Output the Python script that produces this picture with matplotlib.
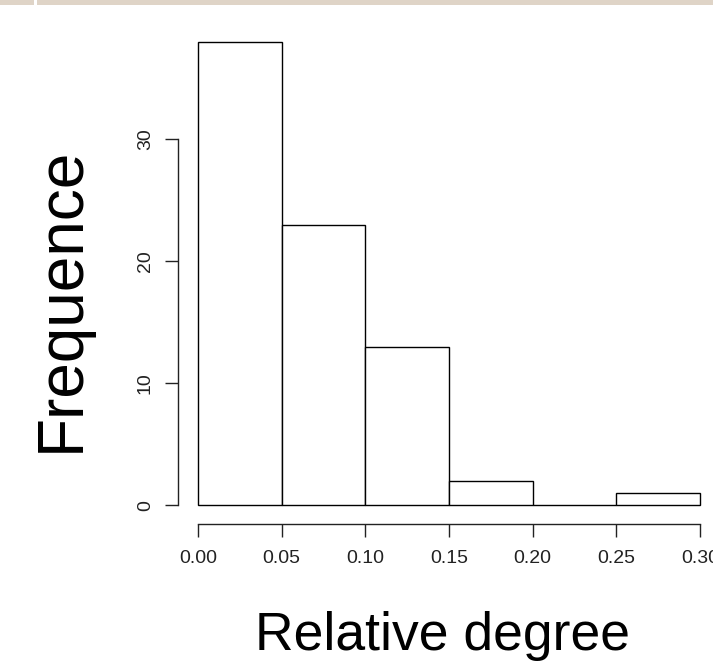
import matplotlib
matplotlib.use("Agg")
import matplotlib.pyplot as plt
from matplotlib.patches import Rectangle

plt.rcParams['font.family'] = ['Liberation Sans', 'DejaVu Sans']

bin_edges = [0.00, 0.05, 0.10, 0.15, 0.20, 0.25, 0.30]
counts = [38, 23, 13, 2, 0, 1]
x_ticks = [0.00, 0.05, 0.10, 0.15, 0.20, 0.25, 0.30]
x_tick_labels = ["0.00", "0.05", "0.10", "0.15", "0.20", "0.25", "0.30"]
y_ticks = [0, 10, 20, 30]
x_label = "Relative degree"
y_label = "Frequence"

W, H = 713, 667
fig = plt.figure(figsize=(W / 100, H / 100), dpi=100)

# top decorative band
fig.patches.append(Rectangle((0, 1 - 4.5 / H), 34 / W, 4.5 / H, transform=fig.transFigure,
                             facecolor="#DFD4C7", edgecolor="none", zorder=0))
fig.patches.append(Rectangle((36.5 / W, 1 - 4.5 / H), 1, 4.5 / H, transform=fig.transFigure,
                             facecolor="#DFD4C7", edgecolor="none", zorder=0))

left, right = 178 / W, 720 / W
bottom, top = 1 - 524 / H, 1 - 23 / H
ax = fig.add_axes([left, bottom, right - left, top - bottom])

widths = [bin_edges[i + 1] - bin_edges[i] for i in range(len(counts))]
ax.bar(bin_edges[:-1], counts, width=widths, align="edge", facecolor="white",
       edgecolor="black", linewidth=1.0)

ax.set_xlim(-0.012, 0.312)
ax.set_ylim(-1.52, 39.52)

for s in ["top", "right"]:
    ax.spines[s].set_visible(False)
ax.spines["bottom"].set_bounds(0, 0.30)
ax.spines["left"].set_bounds(0, 30)
for s in ["bottom", "left"]:
    ax.spines[s].set_linewidth(1.0)
    ax.spines[s].set_color("#222222")

ax.set_xticks(x_ticks)
ax.set_xticklabels(x_tick_labels)
ax.set_yticks(y_ticks)
ax.set_yticklabels([str(v) for v in y_ticks], rotation=90, va="center")
ax.tick_params(axis="both", direction="out", length=9.4, width=1.0, color="#222222",
               labelsize=14, labelcolor="#222222")
ax.tick_params(axis="x", pad=9)
ax.tick_params(axis="y", pad=8)

fig.text(443 / W, 1 - 650 / H, x_label, fontsize=38.5, ha="center", va="baseline")
fig.text(79 / W, 1 - 299 / H, y_label, fontsize=46, rotation=90, ha="center", va="baseline",
         rotation_mode="anchor")

fig.savefig("out.png", dpi=100)
